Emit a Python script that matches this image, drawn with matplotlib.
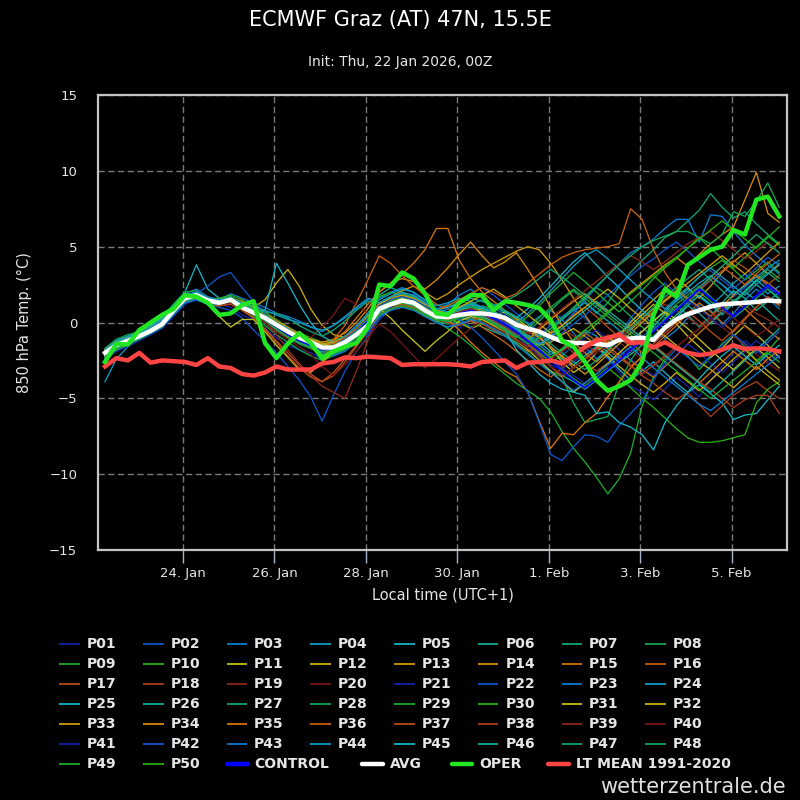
import matplotlib
matplotlib.use("Agg")
import matplotlib.pyplot as plt
import matplotlib.dates as mdates
from matplotlib.lines import Line2D
import pandas as pd

# 6-hourly steps, local time (UTC+1), first step 22 Jan 06Z
times = pd.date_range("2026-01-22 07:00", periods=60, freq="6h")

P01 = [-2.3, -1.8, -1.5, -1.0, -0.6, -0.2, 0.6, 1.4, 1.9, 1.6, 1.2, 1.0,
       0.5, 0.2, -0.4, -1.0, -1.5, -1.8, -2.0, -2.4, -2.0, -1.6, -1.2, -0.8,
       0.3, 0.8, 1.5, 1.9, 1.2, 0.5, 0.0, -0.4, 0.2, 0.8, 0.3, -0.3,
       -0.9, -1.5, -2.2, -2.8, -3.1, -2.6, -2.0, -1.6, -2.4, -3.3, -4.2, -4.6,
       -5.1, -4.4, -3.6, -4.2, -4.9, -3.8, -2.9, -2.0, -1.2, -1.8, -2.6, -2.0]
P02 = [-2.1, -1.6, -1.4, -1.1, -0.8, -0.3, 0.5, 1.3, 1.5, 1.2, 1.0, 0.8,
       0.3, -0.5, -1.2, -2.0, -2.9, -3.8, -4.9, -6.5, -4.8, -3.2, -1.9, -0.9,
       0.2, 0.9, 1.3, 1.0, 0.4, 0.0, -0.3, 0.1, 0.6, 1.0, 0.8, 0.2,
       -0.5, -1.1, -0.8, -0.2, 0.4, 0.9, 0.3, -0.6, -1.4, -0.9, 0.3, 1.2,
       2.0, 2.6, 1.9, 1.2, 2.1, 3.0, 2.5, 1.7, 2.3, 3.1, 2.4, 1.8]
P03 = [-1.9, -1.3, -1.0, -0.7, -0.2, 0.2, 1.1, 1.9, 2.2, 1.7, 1.5, 1.9,
       1.6, 1.3, 1.0, 0.6, 0.4, 0.1, -0.3, -0.6, -0.2, 0.3, 0.9, 1.5,
       1.6, 2.0, 2.3, 2.0, 1.4, 0.9, 1.2, 1.8, 2.2, 1.6, 0.8, 0.0,
       -0.6, -0.2, 0.4, 0.8, 0.2, -0.7, -1.6, -2.4, -1.8, -0.9, 0.1, 0.6,
       -0.2, -1.1, -0.5, 0.3, 1.2, 0.8, -0.1, 0.6, 1.5, 2.2, 1.6, 0.9]
P04 = [-3.9, -2.4, -1.6, -1.0, -0.6, -0.2, 0.7, 1.5, 1.8, 1.5, 1.4, 1.6,
       1.2, 0.8, 0.2, -0.4, -0.9, -1.2, -1.5, -1.9, -2.1, -1.7, -1.0, -0.3,
       0.8, 1.4, 1.7, 1.5, 0.9, 0.3, 0.2, 0.6, 1.0, 0.7, 0.3, 0.1,
       -0.4, -0.9, -1.5, -2.1, -1.8, -1.2, -0.5, -0.9, -1.7, -2.4, -1.9, -1.0,
       -0.3, 0.6, 1.5, 2.2, 1.7, 1.1, 1.8, 2.6, 3.2, 2.5, 1.9, 2.4]
P05 = [-1.8, -1.2, -0.9, -0.6, -0.2, 0.3, 1.2, 2.0, 3.8, 2.2, 1.6, 1.7,
       1.3, 0.9, 0.5, 0.0, -0.3, -0.8, -1.1, -1.4, -1.5, -1.1, -0.5, 0.2,
       1.2, 1.6, 1.4, 1.0, 0.5, 0.3, 0.6, 1.0, 1.3, 0.9, 0.6, 0.2,
       -0.3, -0.8, -1.3, -1.9, -2.4, -2.8, -2.2, -1.6, -2.3, -3.1, -3.8, -3.2,
       -2.6, -3.3, -4.0, -4.6, -4.1, -4.7, -5.3, -6.4, -6.1, -6.0, -5.1, -4.2]
P06 = [-2.0, -1.4, -1.1, -0.9, -0.4, 0.0, 0.9, 1.7, 1.9, 1.3, 1.2, 1.3,
       0.9, 0.5, 0.1, -0.5, -0.9, -1.4, -1.7, -1.8, -1.5, -1.1, -0.4, 0.5,
       1.8, 2.3, 2.0, 1.6, 1.1, 0.6, 0.4, 0.5, 0.2, -0.3, -0.6, -0.9,
       -1.3, -1.7, -2.3, -2.9, -3.5, -3.9, -4.4, -3.8, -3.2, -2.6, -1.9, -1.2,
       -0.6, 0.3, 1.1, 0.5, -0.3, 0.4, 1.3, 2.1, 1.6, 0.8, 1.4, 2.0]
P07 = [-2.2, -1.7, -1.3, -0.8, -0.5, -0.1, 0.8, 1.6, 1.7, 1.4, 1.5, 1.7,
       1.3, 0.9, 0.4, -0.1, -0.4, -0.9, -1.2, -1.5, -1.6, -1.4, -1.0, -0.4,
       0.6, 1.0, 1.2, 1.1, 0.7, 0.5, 0.7, 0.9, 0.6, 0.2, -0.2, -0.6,
       -1.0, -0.6, 0.1, 0.8, 1.5, 2.1, 1.4, 0.6, 1.3, 2.4, 3.3, 4.1,
       4.8, 5.6, 6.0, 6.7, 7.4, 8.5, 7.6, 6.9, 7.3, 6.5, 5.8, 5.2]
P08 = [-1.7, -1.1, -0.8, -0.6, -0.1, 0.4, 1.2, 2.0, 2.1, 1.6, 1.4, 1.4,
       0.8, 0.3, -0.2, -0.8, -1.3, -1.8, -2.2, -2.5, -2.2, -1.8, -1.2, -0.6,
       0.5, 1.1, 1.6, 1.8, 1.3, 0.8, 0.5, 0.3, 0.7, 1.1, 0.9, 0.6,
       0.1, -0.5, -1.2, -0.6, 0.2, 0.9, 1.6, 2.3, 1.8, 1.1, 0.4, -0.3,
       -1.0, -0.4, 0.5, 1.3, 2.0, 1.4, 0.7, 1.2, 2.0, 2.8, 3.5, 2.9]
P09 = [-2.1, -1.6, -1.3, -1.0, -0.6, -0.2, 0.7, 1.5, 1.7, 1.2, 1.1, 1.3,
       0.9, 0.4, 0.0, -0.5, -0.8, -1.1, -1.4, -1.7, -1.8, -1.5, -0.9, -0.1,
       0.7, 1.1, 1.3, 1.2, 0.6, 0.1, -0.4, -0.9, -1.5, -2.2, -2.8, -3.4,
       -4.0, -4.5, -5.0, -5.9, -7.2, -8.3, -9.2, -10.2, -11.3, -10.3, -8.6, -5.5,
       -3.6, -2.4, -1.5, -2.2, -3.1, -2.3, -1.4, -0.8, -1.6, -2.5, -1.9, -1.0]
P10 = [-2.4, -1.9, -1.5, -1.1, -0.7, -0.3, 0.5, 1.3, 1.6, 1.5, 1.6, 1.8,
       1.5, 1.0, 0.7, 0.2, -0.3, -0.7, -1.0, -1.3, -1.2, -0.9, -0.3, 0.6,
       1.7, 2.0, 1.8, 1.5, 1.0, 0.8, 1.1, 1.5, 1.2, 0.7, 0.4, 0.0,
       -0.7, -1.4, -2.0, -2.6, -2.2, -1.5, -0.8, -0.1, 0.6, 1.3, 2.0, 2.6,
       3.1, 2.4, 1.7, 2.3, 3.0, 3.6, 4.1, 3.5, 2.8, 3.4, 4.0, 3.3]
P11 = [-2.0, -1.5, -1.2, -0.9, -0.4, 0.0, 0.9, 1.7, 1.6, 1.2, 0.4, -0.3,
       0.2, 0.2, -0.6, -1.5, -2.3, -3.1, -3.3, -2.6, -2.0, -1.2, -0.7, 0.1,
       0.9, 1.3, 1.6, 1.4, 1.0, 0.5, 0.3, 0.0, -0.4, -0.1, 0.4, 0.7,
       0.3, -0.3, -0.9, -1.7, -2.6, -3.3, -2.8, -2.0, -1.3, -0.7, -0.2, 0.5,
       1.2, 0.6, -0.1, -0.9, -1.6, -2.3, -1.7, -0.9, -0.2, -0.8, -1.5, -2.3]
P12 = [-1.9, -1.4, -1.1, -0.8, -0.4, 0.1, 0.9, 1.6, 1.8, 1.4, 1.3, 1.5,
       1.2, 1.0, 1.5, 2.6, 3.5, 2.4, 0.9, -0.2, -0.8, -1.0, -0.6, 0.2,
       1.1, 1.5, 1.3, 0.9, 0.4, 0.2, 0.5, 0.9, 0.7, 0.3, 0.0, -0.4,
       -0.8, -1.2, -1.5, -1.3, -0.8, -0.4, -0.9, -1.5, -2.2, -2.9, -3.5, -4.1,
       -4.6, -4.0, -3.3, -3.9, -4.5, -3.8, -3.1, -2.4, -1.8, -2.5, -3.2, -3.8]
P13 = [-2.2, -1.6, -1.2, -0.9, -0.5, -0.2, 0.7, 1.5, 1.7, 1.5, 1.4, 1.4,
       1.1, 0.7, 0.4, -0.2, -0.7, -1.1, -1.4, -1.6, -1.4, -1.0, -0.5, 0.3,
       1.3, 1.7, 2.1, 2.4, 2.0, 1.5, 1.9, 2.5, 3.0, 3.5, 3.9, 4.3,
       4.7, 5.0, 4.8, 3.9, 2.8, 1.6, 0.5, -0.6, -1.4, -0.9, 0.0, 0.8,
       1.5, 2.2, 2.9, 2.3, 1.6, 2.4, 3.3, 4.0, 4.6, 3.9, 3.2, 3.8]
P14 = [-2.0, -1.5, -1.1, -0.8, -0.3, 0.1, 0.9, 1.7, 2.0, 1.6, 1.5, 1.6,
       1.4, 1.0, 0.6, 0.1, -0.3, -0.8, -1.1, -1.3, -1.1, -0.7, 0.0, 0.9,
       2.0, 2.6, 2.9, 2.7, 2.2, 2.8, 3.6, 4.5, 5.3, 4.4, 3.6, 4.0,
       4.6, 3.5, 2.3, 1.0, -0.2, -1.3, -2.0, -2.6, -1.9, -1.1, -0.5, 0.2,
       0.9, 1.5, 2.1, 1.6, 1.0, 0.4, 1.1, 1.8, 2.5, 3.1, 2.6, 2.0]
P15 = [-2.3, -1.7, -1.3, -1.0, -0.6, -0.1, 0.8, 1.6, 1.9, 1.5, 1.3, 1.4,
       1.0, 0.6, 0.2, -0.3, -0.7, -1.1, -1.4, -1.5, -1.2, -0.6, 0.3, 1.2,
       2.0, 2.6, 3.2, 3.9, 4.8, 6.2, 6.2, 4.1, 2.9, 2.0, 1.4, 0.8,
       0.2, -0.5, -1.1, -1.6, -2.3, -3.0, -2.4, -1.7, -1.1, -1.8, -2.5, -3.1,
       -3.6, -2.9, -2.2, -1.4, -0.7, 0.0, 0.8, 1.5, 0.9, 0.2, -0.5, -1.1]
P16 = [-2.1, -1.6, -1.2, -0.9, -0.5, -0.1, 0.8, 1.5, 1.7, 1.3, 1.2, 1.3,
       0.9, 0.5, 0.0, -0.6, -1.0, -1.3, -1.5, -1.6, -1.1, -0.2, 1.3, 2.8,
       4.4, 3.9, 3.1, 2.4, 1.8, 1.2, 0.9, 0.5, 0.1, -0.3, -0.8, -1.3,
       -1.9, -2.5, -3.1, -3.6, -3.0, -2.3, -1.7, -1.0, -1.5, -2.2, -2.9, -2.3,
       -1.6, -0.9, -0.2, 0.6, 1.3, 0.7, 0.0, -0.6, 0.2, 1.0, 1.7, 1.1]
P17 = [-2.2, -1.7, -1.4, -1.1, -0.7, -0.3, 0.6, 1.4, 1.6, 1.3, 1.1, 1.2,
       0.8, 0.3, -0.4, -1.2, -2.0, -2.8, -3.4, -3.9, -3.5, -2.6, -1.6, -0.6,
       0.4, 0.9, 1.1, 0.9, 0.4, 0.1, 0.2, 0.4, 0.2, -0.1, -0.5, -0.9,
       -1.4, -1.9, -1.5, -0.8, -0.2, 0.5, 1.0, 0.4, -0.3, -1.0, -1.6, -1.1,
       -0.5, 0.2, 0.8, 1.5, 2.1, 2.8, 3.4, 4.1, 3.6, 3.0, 2.5, 3.1]
P18 = [-1.8, -1.3, -1.0, -0.7, -0.3, 0.1, 1.0, 1.7, 1.9, 1.5, 1.3, 1.4,
       1.0, 0.7, 0.3, -0.2, -0.6, -1.0, -1.3, -1.6, -1.5, -1.2, -0.7, 0.0,
       0.7, 1.0, 1.2, 0.9, 0.5, 0.2, 0.4, 0.7, 0.5, 0.1, -0.2, -0.6,
       -1.1, -1.6, -1.2, -0.6, -1.3, -2.0, -2.6, -3.2, -2.7, -2.1, -2.8, -3.5,
       -4.0, -4.6, -5.1, -4.6, -5.4, -6.2, -5.5, -4.8, -4.3, -3.9, -4.5, -5.0]
P19 = [-2.0, -1.5, -1.2, -0.9, -0.5, -0.1, 0.7, 1.5, 1.6, 1.2, 1.2, 1.4,
       1.0, 0.6, 0.0, -0.8, -1.8, -2.7, -3.5, -4.2, -4.6, -5.0, -3.2, -1.2,
       0.6, 1.0, 1.2, 1.1, 0.6, 0.3, 0.5, 0.7, 0.9, 0.8, 0.5, 0.1,
       -0.3, -0.7, -0.4, 0.1, -0.4, -0.9, -1.4, -2.0, -1.5, -0.9, -0.3, 0.2,
       0.7, 1.2, 0.8, 0.3, -0.2, 0.4, 1.0, 1.5, 1.1, 0.6, 0.2, -0.3]
P20 = [-2.1, -1.6, -1.3, -1.0, -0.6, -0.2, 0.6, 1.4, 1.7, 1.4, 1.3, 1.4,
       1.0, 0.6, 0.2, -0.3, -0.7, -1.1, -1.0, -0.3, 0.5, 1.6, 1.2, 0.6,
       1.0, 1.3, 1.5, 1.3, 0.8, 0.4, 0.2, 0.3, 0.5, 0.4, 0.1, -0.3,
       -0.8, -1.2, -1.7, -2.3, -2.9, -2.5, -1.9, -1.3, -0.8, -1.3, -1.9, -2.4,
       -2.9, -2.3, -1.6, -1.0, -0.4, 0.2, -0.3, -0.9, -1.5, -2.1, -2.7, -3.2]
P21 = [-2.4, -1.9, -1.6, -1.2, -0.8, -0.4, 0.4, 1.2, 1.5, 1.3, 1.2, 1.4,
       1.1, 0.8, 0.4, 0.0, -0.5, -0.9, -1.3, -1.7, -1.9, -1.6, -1.1, -0.4,
       0.5, 1.0, 1.4, 1.5, 1.1, 0.7, 0.6, 0.4, 0.3, 0.6, 0.9, 0.5,
       0.0, -0.5, -1.1, -1.6, -2.1, -1.6, -1.0, -0.5, -1.1, -1.8, -2.4, -3.0,
       -3.5, -2.8, -2.1, -1.4, -2.0, -2.7, -3.3, -2.6, -1.9, -1.2, -1.8, -2.4]
P22 = [-2.0, -1.4, -1.1, -0.8, -0.3, 0.1, 0.8, 1.5, 1.9, 2.4, 3.0, 3.3,
       2.3, 1.4, 0.6, -0.1, -0.6, -1.1, -1.5, -1.7, -1.4, -0.9, -0.3, 0.4,
       1.2, 1.6, 1.9, 1.6, 1.0, 0.6, 0.9, 1.4, 1.9, 2.3, 1.8, 1.2,
       0.6, 0.0, -0.6, -1.2, -0.7, -0.1, 0.5, 1.1, 1.8, 2.5, 3.1, 3.7,
       4.2, 4.8, 5.3, 4.7, 4.0, 3.4, 2.8, 2.2, 2.9, 3.6, 4.3, 3.8]
P23 = [-2.2, -1.6, -1.3, -1.0, -0.6, -0.1, 0.8, 1.6, 1.8, 1.4, 1.3, 1.4,
       1.0, 0.5, 0.1, -0.4, -0.8, -1.2, -1.6, -1.9, -1.8, -1.4, -0.8, -0.1,
       0.8, 1.2, 1.4, 1.2, 0.7, 0.3, 0.4, 0.6, 0.8, 0.7, 0.4, 0.0,
       -0.5, -1.0, -1.4, -0.9, -0.2, 0.6, 1.5, 2.3, 3.1, 3.9, 4.6, 5.0,
       5.5, 6.2, 6.8, 6.8, 5.3, 7.1, 7.0, 6.0, 5.1, 4.4, 3.8, 3.2]
P24 = [-1.9, -1.3, -1.0, -0.7, -0.3, 0.2, 1.0, 1.8, 2.0, 1.6, 1.5, 1.6,
       1.3, 0.9, 0.5, 0.0, -0.4, -0.9, -1.2, -1.5, -1.3, -0.9, -0.2, 0.6,
       1.5, 1.9, 2.2, 2.0, 1.5, 1.1, 1.3, 1.6, 1.4, 1.0, 0.6, 0.3,
       -0.1, -0.5, -0.9, -0.4, 0.2, 0.8, 1.3, 0.7, 0.1, -0.5, -1.1, -0.6,
       0.1, 0.8, 1.4, 2.0, 2.6, 3.1, 2.5, 1.9, 2.4, 3.0, 3.6, 4.1]
P25 = [-2.1, -1.5, -1.2, -0.9, -0.4, 0.0, 0.9, 1.6, 1.8, 1.3, 1.2, 1.4,
       1.0, 0.7, 0.8, 3.9, 2.6, 1.2, 0.0, -0.9, -1.3, -1.2, -0.7, 0.1,
       1.0, 1.4, 1.6, 1.5, 1.1, 0.8, 1.0, 1.3, 1.6, 1.4, 1.1, 0.7,
       0.3, 0.9, 1.6, 2.4, 3.2, 4.0, 4.6, 3.8, 3.0, 2.3, 1.5, 0.8,
       0.2, -0.4, 0.3, 1.1, 1.8, 1.2, 0.5, 1.3, 2.1, 2.8, 2.2, 1.6]
P26 = [-2.3, -1.8, -1.4, -1.1, -0.7, -0.2, 0.6, 1.4, 1.6, 1.3, 1.3, 1.5,
       1.1, 0.6, 0.2, -0.3, -0.8, -1.3, -1.7, -2.0, -1.9, -1.5, -0.9, -0.2,
       0.6, 1.1, 1.3, 1.2, 0.7, 0.2, 0.0, 0.3, 0.7, 1.0, 0.6, 0.2,
       -0.4, -1.0, -1.7, -2.3, -1.8, -1.2, -0.6, -1.3, -2.0, -2.6, -2.1, -1.5,
       -0.9, -0.2, 0.5, 1.1, 0.6, -0.1, 0.7, 1.4, 2.0, 1.5, 0.8, 0.1]
P27 = [-1.9, -1.4, -1.1, -0.8, -0.4, 0.0, 0.9, 1.7, 1.9, 1.5, 1.4, 1.6,
       1.2, 0.9, 0.7, 0.6, 0.3, -0.2, -0.6, -0.9, -0.5, 0.1, 0.8, 1.4,
       1.3, 1.7, 1.9, 1.7, 1.2, 0.8, 0.7, 0.9, 1.2, 1.5, 1.2, 0.8,
       0.4, -0.1, -0.7, -1.4, -2.0, -2.6, -3.1, -2.5, -1.8, -1.1, -0.4, 0.3,
       1.0, 1.7, 2.3, 2.9, 3.5, 2.8, 2.1, 1.4, 2.0, 2.7, 3.3, 2.7]
P28 = [-2.0, -1.5, -1.2, -0.9, -0.5, -0.1, 0.8, 1.6, 1.8, 1.4, 1.2, 1.3,
       0.9, 0.4, 0.0, -0.6, -1.0, -1.4, -1.7, -2.0, -1.9, -1.4, -0.8, -0.1,
       0.8, 1.1, 1.2, 1.0, 0.5, 0.1, -0.1, 0.1, 0.3, 0.1, -0.3, -0.8,
       -1.4, -2.0, -2.7, -3.2, -3.6, -5.3, -6.6, -6.4, -6.2, -4.0, -2.5, -1.4,
       -0.2, 0.5, 1.2, 1.8, 2.4, 1.7, 1.0, 0.3, 0.9, 1.6, 2.2, 1.5]
P29 = [-2.2, -1.7, -1.3, -1.0, -0.6, -0.2, 0.7, 1.5, 1.7, 1.4, 1.4, 1.6,
       1.3, 0.9, 0.5, 0.0, -0.5, -0.9, -1.3, -1.6, -1.5, -1.1, -0.5, 0.3,
       1.2, 1.5, 1.8, 1.6, 1.1, 0.7, 0.5, 0.8, 1.0, 0.8, 0.5, 0.2,
       -0.2, 0.4, 1.1, 1.9, 2.6, 3.3, 2.7, 2.0, 1.3, 0.7, 1.4, 2.1,
       2.9, 3.6, 4.2, 4.9, 5.6, 4.9, 4.2, 3.6, 4.3, 5.0, 5.7, 5.1]
P30 = [-2.1, -1.6, -1.2, -0.9, -0.5, -0.1, 0.7, 1.5, 1.7, 1.3, 1.2, 1.3,
       0.9, 0.5, 0.1, -0.4, -0.9, -1.3, -1.6, -1.9, -1.7, -1.2, -0.6, 0.2,
       1.0, 1.3, 1.5, 1.3, 0.9, 0.5, 0.2, 0.0, -0.3, -0.1, 0.2, -0.1,
       -0.6, -1.2, -1.9, -2.5, -3.1, -3.7, -4.2, -3.6, -3.0, -3.6, -4.3, -5.0,
       -5.6, -6.3, -7.0, -7.6, -7.9, -7.9, -7.8, -7.6, -7.4, -5.3, -4.4, -3.9]
P31 = [-1.8, -1.3, -1.0, -0.7, -0.3, 0.2, 1.0, 1.7, 1.9, 1.5, 1.4, 1.5,
       1.1, 0.7, 0.3, -0.2, -0.6, -1.0, -1.3, -1.5, -1.4, -1.1, -0.6, 0.1,
       0.9, 0.3, -0.5, -1.2, -1.9, -1.2, -0.6, 0.1, 0.4, 0.2, -0.2, -0.7,
       -1.2, -1.8, -2.5, -3.2, -3.9, -4.6, -4.0, -3.4, -2.7, -2.0, -1.3, -0.6,
       0.1, 0.7, 0.2, -0.4, -1.1, -1.8, -2.5, -3.1, -2.4, -1.7, -2.3, -3.0]
P32 = [-2.1, -1.6, -1.3, -1.0, -0.6, -0.1, 0.8, 1.6, 1.9, 1.6, 1.4, 1.5,
       1.2, 0.8, 0.4, -0.1, -0.5, -0.9, -1.2, -1.5, -1.6, -1.3, -0.7, 0.0,
       0.7, 1.1, 1.3, 1.1, 0.7, 0.3, 0.6, 1.0, 1.4, 1.8, 2.2, 1.7,
       1.1, 0.5, -0.1, -0.7, -0.2, 0.4, 1.0, 1.6, 2.2, 1.6, 0.9, 0.3,
       -0.3, -0.9, -1.5, -2.0, -2.6, -3.1, -3.7, -4.3, -3.6, -2.9, -3.5, -4.1]
P33 = [-2.0, -1.5, -1.2, -0.8, -0.4, 0.0, 0.8, 1.6, 1.8, 1.4, 1.3, 1.5,
       1.2, 0.8, 0.4, -0.1, -0.5, -0.8, -1.1, -1.4, -1.3, -1.0, -0.4, 0.4,
       1.2, 1.6, 1.8, 1.6, 1.2, 0.8, 0.6, 0.5, 0.7, 0.9, 0.7, 0.4,
       0.0, -0.5, -1.0, -1.6, -2.2, -2.8, -3.4, -2.8, -2.1, -1.4, -0.7, 0.0,
       0.7, 1.4, 2.0, 2.6, 3.2, 3.8, 4.4, 3.8, 3.2, 3.9, 4.6, 5.3]
P34 = [-2.2, -1.7, -1.3, -1.0, -0.6, -0.2, 0.6, 1.4, 1.7, 1.4, 1.3, 1.4,
       1.0, 0.6, 0.2, -0.3, -0.8, -1.2, -1.5, -1.7, -1.5, -1.1, -0.5, 0.3,
       1.0, 1.3, 1.5, 1.4, 0.9, 0.5, 0.3, 0.5, 0.8, 0.6, 0.3, -0.1,
       -0.6, -1.1, -0.5, 0.2, 0.8, 1.4, 1.9, 1.3, 0.7, 1.3, 2.0, 2.6,
       3.2, 3.8, 4.3, 3.7, 4.5, 5.2, 5.8, 6.3, 8.1, 9.9, 7.2, 6.6]
P35 = [-1.9, -1.4, -1.1, -0.8, -0.4, 0.1, 0.9, 1.7, 1.9, 1.5, 1.3, 1.4,
       1.0, 0.6, 0.2, -0.3, -0.7, -1.1, -1.4, -1.7, -1.6, -1.2, -0.6, 0.2,
       1.0, 1.4, 1.6, 1.4, 1.0, 0.5, 0.2, -0.5, -1.3, -2.0, -2.6, -3.2,
       -3.6, -4.6, -6.5, -8.3, -7.3, -7.4, -6.6, -6.0, -4.9, -3.9, -3.0, -2.2,
       -1.5, -2.1, -2.8, -3.4, -4.0, -3.3, -2.6, -1.9, -2.5, -3.1, -2.4, -1.8]
P36 = [-2.1, -1.6, -1.2, -0.9, -0.5, -0.1, 0.8, 1.6, 1.8, 1.4, 1.3, 1.5,
       1.1, 0.7, 0.3, -0.2, -0.7, -1.1, -1.4, -1.6, -1.4, -1.0, -0.4, 0.3,
       1.1, 1.5, 1.7, 1.5, 1.1, 0.8, 1.1, 1.5, 1.9, 2.3, 2.0, 1.6,
       1.9, 2.6, 3.2, 3.8, 4.3, 4.6, 4.8, 4.9, 5.0, 5.2, 7.5, 6.8,
       4.8, 3.3, 2.2, 1.5, 2.3, 3.0, 3.7, 3.1, 2.5, 3.2, 3.9, 4.5]
P37 = [-2.3, -1.8, -1.4, -1.1, -0.7, -0.3, 0.6, 1.4, 1.6, 1.2, 1.1, 1.3,
       0.9, 0.3, -0.5, -1.3, -2.2, -3.0, -3.6, -3.9, -3.3, -2.4, -1.5, -0.6,
       0.5, 0.9, 1.2, 1.0, 0.6, 0.2, 0.0, -0.2, 0.1, 0.4, 0.1, -0.3,
       -0.8, -1.4, -2.1, -2.9, -3.6, -3.0, -2.4, -1.8, -1.2, -0.6, -1.3, -2.0,
       -1.4, -0.7, 0.0, 0.7, 0.1, -0.6, -1.2, -0.5, 0.3, 1.0, 1.7, 1.2]
P38 = [-2.0, -1.5, -1.2, -0.9, -0.5, 0.0, 0.8, 1.6, 1.7, 1.3, 1.2, 1.4,
       1.0, 0.6, 0.2, -0.4, -0.9, -1.3, -1.7, -2.0, -1.8, -1.3, -0.7, 0.0,
       0.8, 1.2, 1.4, 1.2, 0.8, 0.4, 0.3, 0.5, 0.7, 0.5, 0.2, -0.2,
       -0.7, -1.3, -1.9, -2.4, -1.9, -1.3, -0.7, -1.2, -1.8, -2.3, -2.9, -3.4,
       -2.8, -2.2, -2.7, -3.3, -3.9, -4.4, -5.0, -5.6, -5.1, -4.8, -4.8, -6.0]
P39 = [-2.2, -1.7, -1.3, -1.0, -0.6, -0.1, 0.7, 1.5, 1.8, 1.4, 1.3, 1.4,
       1.0, 0.6, 0.2, -0.3, -0.8, -1.2, -1.5, -1.8, -1.6, -1.2, -0.6, 0.1,
       0.9, 1.3, 1.5, 1.3, 0.9, 0.5, 0.5, 0.7, 0.9, 0.7, 0.4, 0.1,
       -0.3, -0.8, -0.3, 0.3, 0.9, 1.5, 2.1, 2.7, 3.3, 3.9, 4.4, 4.0,
       3.5, 4.0, 4.6, 5.2, 5.6, 6.0, 5.4, 4.8, 4.2, 4.7, 5.3, 4.6]
P40 = [-2.1, -1.6, -1.3, -1.0, -0.6, -0.2, 0.7, 1.5, 1.6, 1.3, 1.2, 1.3,
       0.9, 0.5, 0.0, -0.6, -1.1, -1.6, -2.1, -2.9, -3.5, -2.8, -1.9, -1.0,
       -0.1, -0.6, -1.4, -2.2, -3.0, -2.4, -1.7, -1.0, -0.4, 0.1, -0.3, -0.7,
       -1.2, -1.7, -2.3, -2.9, -3.4, -3.0, -2.5, -2.0, -1.5, -1.0, -0.5, -1.0,
       -1.6, -2.2, -1.6, -1.0, -0.4, 0.2, 0.8, 0.3, -0.3, -0.9, -0.4, 0.2]
P41 = [-2.0, -1.5, -1.1, -0.8, -0.4, 0.0, 0.9, 1.6, 1.8, 1.5, 1.4, 1.5,
       1.1, 0.6, 0.2, -0.3, -0.7, -1.1, -1.4, -1.7, -1.6, -1.2, -0.6, 0.1,
       0.9, 1.3, 1.5, 1.4, 0.9, 0.5, 0.4, 0.6, 0.8, 0.6, 0.2, -0.2,
       -0.7, -1.3, -1.9, -2.4, -3.0, -3.5, -4.0, -3.4, -2.8, -2.2, -1.6, -1.0,
       -0.4, 0.2, 0.8, 1.4, 0.9, 0.3, -0.3, 0.4, 1.1, 1.7, 2.3, 1.8]
P42 = [-1.9, -1.4, -1.1, -0.8, -0.4, 0.1, 0.9, 1.7, 1.9, 1.5, 1.4, 1.5,
       1.1, 0.7, 0.3, -0.2, -0.6, -1.0, -1.3, -1.6, -1.5, -1.1, -0.5, 0.3,
       1.1, 1.5, 1.7, 1.5, 1.1, 0.7, 0.5, 0.2, -0.3, -1.0, -1.8, -2.6,
       -3.4, -4.6, -6.6, -8.7, -9.1, -8.2, -7.4, -7.5, -7.9, -6.8, -6.0, -5.2,
       -3.8, -2.6, -1.7, -2.3, -2.9, -2.2, -1.5, -0.8, -1.4, -2.0, -1.3, -0.6]
P43 = [-2.2, -1.7, -1.4, -1.1, -0.7, -0.3, 0.5, 1.3, 1.5, 1.2, 1.2, 1.4,
       1.0, 0.6, 0.2, -0.4, -0.8, -1.3, -1.6, -2.0, -2.2, -1.9, -1.3, -0.6,
       0.4, 0.8, 1.0, 0.8, 0.4, 0.0, -0.3, -0.1, 0.2, 0.0, -0.4, -0.9,
       -1.5, -2.1, -2.7, -3.3, -3.9, -4.5, -4.0, -3.4, -2.8, -2.2, -1.6, -2.3,
       -3.0, -3.6, -4.2, -4.8, -5.4, -5.8, -5.2, -4.6, -4.0, -3.4, -2.8, -2.2]
P44 = [-1.8, -1.3, -1.0, -0.7, -0.3, 0.2, 1.0, 1.8, 2.0, 1.6, 1.5, 1.6,
       1.3, 1.1, 0.8, 0.5, 0.2, 0.0, -0.3, -0.5, -0.2, 0.4, 1.0, 1.6,
       1.3, 1.7, 2.0, 1.8, 1.3, 0.9, 0.7, 0.9, 1.2, 1.0, 0.7, 0.4,
       0.0, 0.6, 1.3, 2.1, 2.9, 3.7, 4.4, 4.8, 4.2, 3.5, 2.8, 2.1,
       1.5, 0.9, 1.6, 2.3, 3.0, 3.6, 3.0, 2.4, 1.8, 2.5, 3.2, 3.9]
P45 = [-2.0, -1.5, -1.2, -0.9, -0.5, -0.1, 0.8, 1.6, 1.8, 1.4, 1.3, 1.5,
       1.1, 0.7, 0.3, -0.2, -0.7, -1.1, -1.4, -1.7, -1.6, -1.2, -0.6, 0.1,
       0.9, 1.3, 1.5, 1.3, 0.9, 0.5, 0.3, 0.4, 0.6, 0.4, 0.0, -0.5,
       -1.8, -2.6, -3.4, -4.0, -4.4, -4.6, -4.8, -6.0, -5.9, -6.6, -6.9, -7.4,
       -8.4, -6.6, -5.5, -4.6, -3.7, -2.9, -2.2, -1.6, -2.2, -2.8, -2.1, -1.5]
P46 = [-2.1, -1.6, -1.3, -1.0, -0.6, -0.1, 0.7, 1.5, 1.7, 1.4, 1.4, 1.6,
       1.2, 0.8, 0.4, -0.1, -0.6, -1.0, -1.4, -1.7, -1.6, -1.3, -0.7, 0.0,
       0.8, 1.2, 1.4, 1.2, 0.8, 0.4, 0.5, 0.8, 1.1, 0.9, 0.6, 0.2,
       -0.3, -0.9, -1.5, -1.0, -0.4, 0.2, 0.8, 1.4, 0.8, 0.2, -0.4, -1.0,
       -1.6, -2.2, -2.8, -3.4, -4.0, -4.6, -3.9, -3.2, -2.5, -1.8, -1.1, -0.4]
P47 = [-2.3, -1.8, -1.4, -1.1, -0.7, -0.3, 0.6, 1.4, 1.6, 1.3, 1.3, 1.5,
       1.1, 0.7, 0.3, -0.2, -0.7, -1.2, -1.6, -1.9, -1.8, -1.4, -0.8, 0.0,
       0.7, 1.1, 1.4, 1.3, 0.8, 0.3, 0.1, 0.3, 0.6, 0.8, 1.1, 1.4,
       1.8, 2.3, 2.9, 3.5, 3.0, 2.4, 1.8, 1.2, 0.6, 0.0, -0.6, -1.2,
       -0.5, 0.2, 0.9, 1.6, 2.3, 3.0, 3.7, 4.4, 5.1, 5.8, 5.2, 4.6]
P48 = [-1.9, -1.4, -1.1, -0.8, -0.4, 0.0, 0.9, 1.7, 1.9, 1.5, 1.3, 1.4,
       1.0, 0.6, 0.2, -0.3, -0.7, -1.1, -1.5, -1.8, -1.7, -1.3, -0.7, 0.0,
       0.8, 1.2, 1.3, 1.1, 0.6, 0.2, 0.1, 0.3, 0.5, 0.3, 0.0, -0.4,
       -0.9, -1.4, -1.0, -0.4, 0.3, 1.0, 1.7, 2.4, 3.1, 3.8, 4.4, 5.0,
       5.4, 5.7, 6.0, 6.0, 5.6, 5.2, 5.8, 7.3, 7.0, 8.0, 9.2, 7.6]
P49 = [-2.0, -1.5, -1.2, -0.9, -0.5, -0.1, 0.8, 1.6, 1.7, 1.3, 1.2, 1.4,
       1.0, 0.6, 0.2, -0.4, -0.9, -1.3, -1.7, -2.1, -2.0, -1.6, -1.0, -0.3,
       0.5, 0.9, 1.1, 0.9, 0.5, 0.2, 0.1, 0.3, 0.5, 0.3, -0.1, -0.5,
       -1.0, -0.4, 0.3, 1.0, 1.6, 2.2, 1.6, 1.0, 0.4, -0.2, -0.8, -1.4,
       -2.0, -2.6, -3.2, -3.8, -4.4, -5.0, -4.4, -3.8, -3.2, -2.6, -2.0, -2.6]
P50 = [-2.2, -1.7, -1.3, -1.0, -0.6, -0.2, 0.7, 1.5, 1.8, 1.5, 1.4, 1.5,
       1.1, 0.7, 0.3, -0.2, -0.6, -1.0, -1.3, -1.6, -1.5, -1.2, -0.6, 0.2,
       1.0, 1.4, 1.6, 1.4, 1.0, 0.6, 0.4, 0.6, 0.8, 0.6, 0.3, -0.1,
       -0.6, -1.1, -1.7, -2.3, -1.7, -1.1, -0.5, 0.1, 0.7, 1.3, 1.9, 2.5,
       3.1, 3.7, 4.3, 4.9, 5.5, 6.1, 6.7, 6.1, 5.5, 4.9, 5.6, 6.3]

CONTROL = [-2.1, -1.6, -1.2, -0.9, -0.5, -0.1, 0.8, 1.6, 1.8, 1.4, 1.3, 1.5,
           1.1, 0.7, 0.2, -0.3, -0.8, -1.2, -1.5, -1.8, -1.7, -1.3, -0.7, 0.1,
           0.9, 1.3, 1.5, 1.3, 0.9, 0.5, 0.4, 0.6, 0.8, 0.6, 0.3, -0.1,
           -0.6, -1.2, -1.8, -2.5, -3.2, -3.8, -4.3, -3.7, -3.1, -2.5, -1.8, -1.2,
           -0.6, 0.1, 0.8, 1.5, 2.2, 1.6, 1.0, 0.4, 1.1, 1.8, 2.5, 1.9]
AVG = [-2.0, -1.5, -1.2, -0.9, -0.55, -0.1, 0.8, 1.6, 1.8, 1.45, 1.3, 1.5,
       1.0, 0.65, 0.3, -0.15, -0.6, -1.0, -1.3, -1.65, -1.65, -1.3, -0.8, -0.2,
       0.9, 1.2, 1.45, 1.3, 0.8, 0.4, 0.35, 0.5, 0.6, 0.6, 0.5, 0.3,
       -0.15, -0.4, -0.6, -0.95, -1.25, -1.35, -1.35, -1.4, -1.5, -1.15, -1.05, -1.0,
       -1.15, -0.35, 0.2, 0.55, 0.8, 1.05, 1.2, 1.25, 1.3, 1.35, 1.45, 1.4]
OPER = [-2.6, -1.4, -1.45, -0.5, 0.0, 0.5, 0.9, 1.8, 1.7, 1.3, 0.5, 0.6,
        1.15, 1.4, -1.35, -2.35, -1.4, -0.7, -1.35, -2.35, -1.9, -1.6, -1.35, -0.3,
        2.5, 2.4, 3.3, 2.9, 1.9, 0.6, 0.5, 1.3, 1.8, 1.8, 0.8, 1.4,
        1.3, 1.15, 0.95, 0.16, -1.2, -1.6, -2.6, -3.8, -4.5, -4.2, -3.8, -2.6,
        0.5, 2.2, 1.7, 3.8, 4.3, 4.8, 5.0, 6.1, 5.8, 8.1, 8.3, 7.0]
LT_MEAN = [-2.9, -2.35, -2.5, -2.0, -2.65, -2.5, -2.55, -2.6, -2.8, -2.35, -2.9, -3.0,
           -3.4, -3.5, -3.3, -2.9, -3.1, -3.1, -3.1, -2.7, -2.6, -2.3, -2.35, -2.25,
           -2.3, -2.35, -2.8, -2.75, -2.75, -2.75, -2.75, -2.8, -2.9, -2.6, -2.55, -2.5,
           -3.0, -2.65, -2.6, -2.5, -2.7, -2.2, -1.6, -1.2, -1.0, -0.8, -1.35, -1.3,
           -1.65, -1.3, -1.7, -2.0, -2.15, -2.05, -1.8, -1.5, -1.75, -1.7, -1.75, -1.9]

members = [P01, P02, P03, P04, P05, P06, P07, P08, P09, P10,
           P11, P12, P13, P14, P15, P16, P17, P18, P19, P20,
           P21, P22, P23, P24, P25, P26, P27, P28, P29, P30,
           P31, P32, P33, P34, P35, P36, P37, P38, P39, P40,
           P41, P42, P43, P44, P45, P46, P47, P48, P49, P50]

# member colours repeat every 20 members
palette = ["#1024a8", "#0c54c8", "#0c7cd0", "#0c9cc0", "#12b4c4",
           "#12ac94", "#10a474", "#10a452", "#18ac2c", "#28ac10",
           "#c0c018", "#c8ac0c", "#cc9a0a", "#d4880a", "#d4720a",
           "#c45e0c", "#b84c1a", "#a83c1a", "#8c281a", "#741616"]

W, H = 800, 800
fig = plt.figure(figsize=(8, 8), dpi=100, facecolor="black")
ax = fig.add_axes([98 / W, 1 - 550 / H, (787 - 98) / W, (550 - 95) / H],
                  facecolor="black")

for n, vals in enumerate(members):
    ax.plot(times, vals, color=palette[n % 20], lw=0.95)
ax.plot(times, CONTROL, color="#0000ff", lw=1.3)
ax.plot(times, AVG, color="white", lw=3.2, solid_joinstyle="round")
ax.plot(times, LT_MEAN, color="#ff4444", lw=3.2, solid_joinstyle="round")
ax.plot(times, OPER, color="#22e622", lw=3.2, solid_joinstyle="round")

ax.set_ylim(-15, 15)
ax.set_yticks(range(-15, 16, 5))
ax.set_xlim(pd.Timestamp("2026-01-22 03:20"), pd.Timestamp("2026-02-06 05:05"))
ax.xaxis.set_major_locator(mdates.DayLocator(bymonthday=[1, 3, 5, 24, 26, 28, 30]))
ax.xaxis.set_major_formatter(mdates.DateFormatter("%-d. %b"))

ax.grid(True, color="#7a7a7a", lw=1, linestyle=(0, (4.5, 2.5)))
ax.set_axisbelow(True)
for sp in ax.spines.values():
    sp.set_color("#c4c4c4")
    sp.set_linewidth(1.6)

ax.tick_params(axis="x", colors="#a8b4c8", length=9, width=1, pad=3,
               labelcolor="#e6e6e6", labelsize=9.5)
ax.tick_params(axis="y", length=0, pad=15, labelcolor="#e6e6e6", labelsize=9.5)

ax.set_ylabel("850 hPa Temp. (°C)", color="#e6e6e6", fontsize=10.5)
ax.yaxis.set_label_coords(-0.096, 0.5)
ax.set_xlabel("Local time (UTC+1)", color="#e6e6e6", fontsize=10.5, va="center")
ax.xaxis.set_label_coords(0.5, -0.099)

fig.text(0.5, 1 - 20 / H, "ECMWF Graz (AT) 47N, 15.5E", color="white",
         fontsize=15, ha="center", va="center")
fig.text(0.5, 1 - 62 / H, "Init: Thu, 22 Jan 2026, 00Z", color="#e6e6e6",
         fontsize=10, ha="center", va="center")


def legend_item(x0, y, label, color, lw):
    yy = 1 - y / H
    fig.add_artist(Line2D([x0 / W, (x0 + 20.5) / W], [yy, yy], color=color,
                          lw=lw, solid_capstyle="round" if lw > 2 else "butt"))
    fig.text((x0 + 27.5) / W, yy, label, color="#e6e6e6", fontsize=10,
             fontweight="bold", ha="left", va="center")


row_y = [644, 663.5, 683.5, 703.5, 724, 743.5, 763.5]
for n in range(50):
    r, c = divmod(n, 8)
    legend_item(59.3 + 83.7 * c, row_y[r], f"P{n + 1:02d}", palette[n % 20], 1.3)
legend_item(227, row_y[6], "CONTROL", "#0000ff", 3.2)
legend_item(362, row_y[6], "AVG", "white", 3.2)
legend_item(452, row_y[6], "OPER", "#22e622", 3.2)
legend_item(548, row_y[6], "LT MEAN 1991-2020", "#ff4444", 3.2)

fig.text(786 / W, 1 - 787 / H, "wetterzentrale.de", color="#e0e0e0",
         fontsize=15, ha="right", va="center")

fig.savefig("out.png", dpi=100, facecolor="black")
